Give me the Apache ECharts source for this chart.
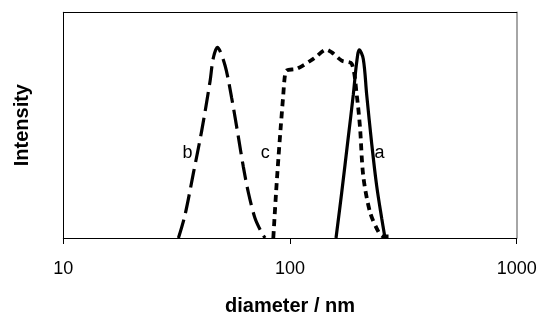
<!DOCTYPE html>
<html>
<head>
<meta charset="utf-8">
<script src="https://cdn.jsdelivr.net/npm/echarts@6/dist/echarts.min.js"></script>
<style>html,body{margin:0;padding:0;background:#fff}#c{width:540px;height:321px}</style>
</head>
<body>
<div id="c"></div>
<script>
// Curve a (solid)
const aDiam = [159.6, 169.1, 180.8, 190.2, 196.9, 202.2, 210.5, 217.9, 229.3, 241.2, 253.8, 262.5];
const aInt  = [0, 24.2, 53.7, 76.2, 93.5, 100.1, 95.2, 76.2, 50.2, 27.7, 10.5, 0];
// Curve b (long dash)
const bDiam = [32.2, 34.4, 37.5, 40.8, 44.4, 45.8, 47.8, 51.7, 55.3, 59.2, 62.2, 65.5, 70.1, 75.0, 77.6];
const bInt  = [0, 12.1, 34.6, 57.1, 83.3, 95.2, 101.3, 91.7, 74.4, 53.7, 38.1, 24.2, 10.5, 2.8, 0];
// Curve c (short dash)
const cDiam = [84.4, 86.8, 88.8, 91.0, 93.4, 95.0, 96.7, 107.1, 126.7, 145.2, 152.8, 169.1, 187.2, 196.9, 203.6, 210.5, 225.4, 245.3, 258.0, 285.6];
const cInt  = [0, 24.2, 41.7, 58.9, 76.2, 86.5, 89.1, 90.0, 95.2, 100.1, 98.7, 94.3, 92.6, 76.2, 58.9, 32.9, 13.8, 3.4, 0.8, 0.8];
// Curve labels
const labelText = ['b', 'c', 'a'];
const labelDiam = [35.3, 77.8, 248.2];
const labelInt  = [45, 45, 45];
// Axis
const xTicks = [10, 100, 1000];

const pairs = (xs, ys) => xs.map((x, i) => [x, ys[i]]);
const FONT = '"Liberation Sans", Arial, sans-serif';

const chart = echarts.init(document.getElementById('c'), null, {renderer: 'canvas'});
chart.setOption({
  animation: false,
  backgroundColor: '#fff',
  grid: {left: 63.3, right: 23.3, top: 12.3, bottom: 77.7, containLabel: false},
  xAxis: [{
    type: 'log', logBase: 10, min: xTicks[0], max: xTicks[xTicks.length - 1],
    name: 'diameter / nm', nameLocation: 'middle', nameGap: 58,
    nameTextStyle: {fontFamily: FONT, fontSize: 20, fontWeight: 'bold', color: '#000'},
    axisLine: {show: true, lineStyle: {color: '#000', width: 1}},
    axisTick: {show: true, inside: false, length: 6, lineStyle: {color: '#000'}},
    minorTick: {show: false},
    axisLabel: {fontFamily: FONT, fontSize: 18, color: '#000', margin: 22,
      formatter: v => String(Math.round(v))},
    splitLine: {show: false}
  }, {
    type: 'value', position: 'top', min: 0, max: 1,
    axisLine: {show: true, onZero: false, lineStyle: {color: '#000', width: 1}},
    axisTick: {show: false}, axisLabel: {show: false}, splitLine: {show: false}
  }],
  yAxis: [{
    type: 'value', min: 0, max: 120,
    name: 'Intensity', nameLocation: 'middle', nameGap: 31, nameRotate: 90,
    nameTextStyle: {fontFamily: FONT, fontSize: 20, fontWeight: 'bold', color: '#000'},
    axisLine: {show: true, lineStyle: {color: '#000', width: 1}},
    axisTick: {show: false}, axisLabel: {show: false}, splitLine: {show: false}
  }, {
    type: 'value', position: 'right', min: 0, max: 1,
    axisLine: {show: true, onZero: false, lineStyle: {color: '#888', width: 1.5}},
    axisTick: {show: false}, axisLabel: {show: false}, splitLine: {show: false}
  }],
  series: [{
    name: 'b', type: 'line', data: pairs(bDiam, bInt), smooth: 0.3, symbol: 'none',
    lineStyle: {color: '#000', width: 3.2, type: [19, 7], cap: 'butt'}
  }, {
    name: 'c', type: 'line', data: pairs(cDiam, cInt), smooth: 0.3, symbol: 'none',
    lineStyle: {color: '#000', width: 3.8, type: [7, 5], cap: 'butt'}
  }, {
    name: 'a', type: 'line', data: pairs(aDiam, aInt), smooth: 0.35, symbol: 'none',
    lineStyle: {color: '#000', width: 3.2}
  }, {
    name: 'labels', type: 'scatter', symbol: 'circle', symbolSize: 1,
    itemStyle: {color: '#fff', opacity: 1},
    data: labelText.map((t, i) => ({value: [labelDiam[i], labelInt[i]], name: t})),
    label: {show: true, position: 'inside', formatter: p => p.name, opacity: 1,
      fontFamily: FONT, fontSize: 18, color: '#000', textBorderWidth: 0},
    emphasis: {disabled: true},
    silent: true, z: 5
  }]
});
</script>
</body>
</html>
